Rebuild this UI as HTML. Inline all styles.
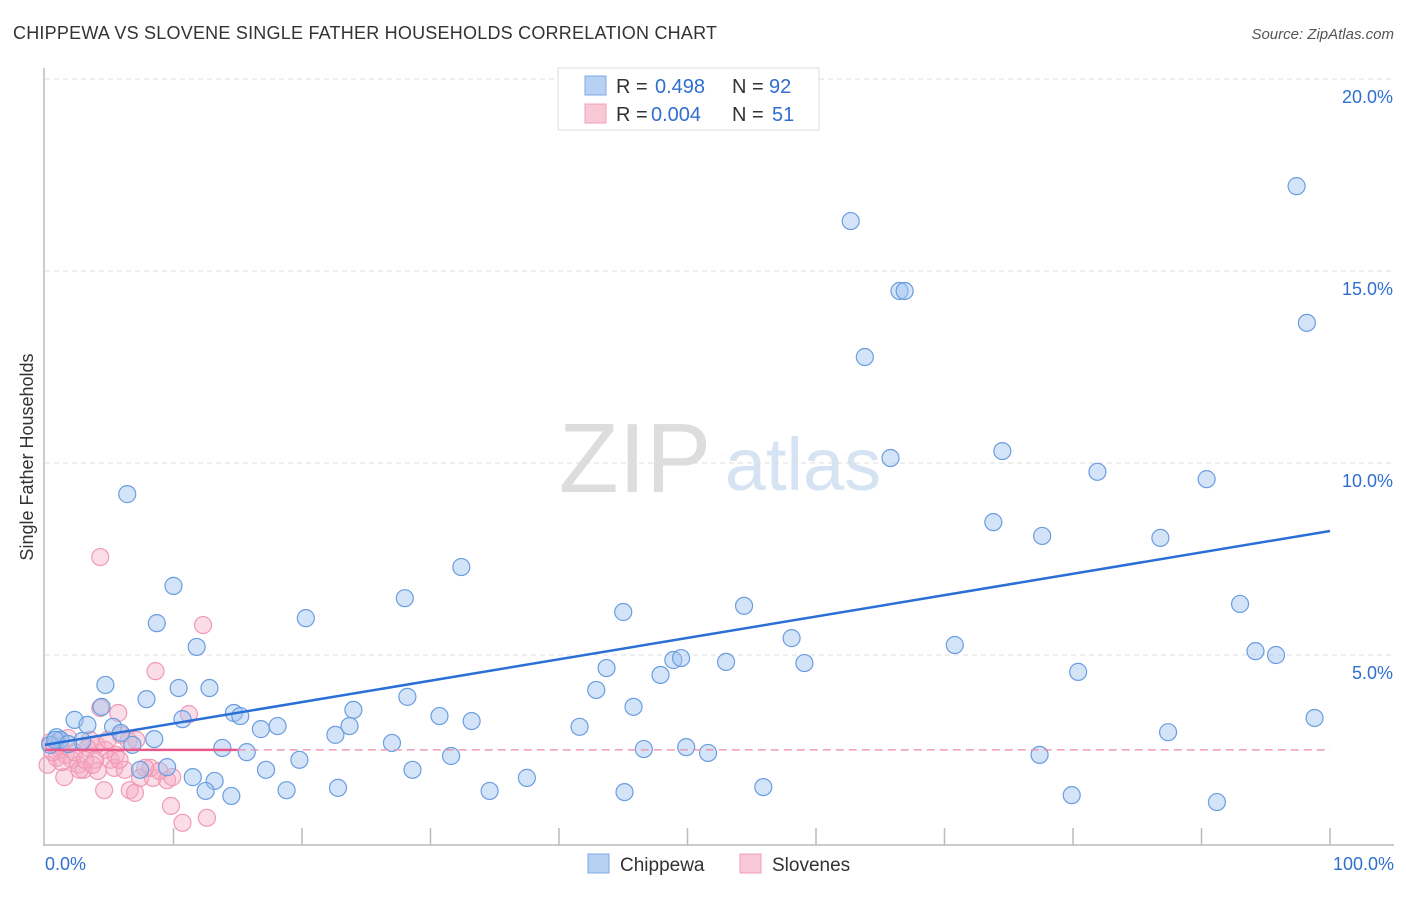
<!DOCTYPE html>
<html><head><meta charset="utf-8"><style>
body{margin:0;background:#fff;font-family:"Liberation Sans",sans-serif;}
svg text{font-family:"Liberation Sans",sans-serif;}
</style></head><body>
<svg id="chart" width="1406" height="892" xmlns="http://www.w3.org/2000/svg">
<text x="13" y="39" font-size="18" fill="#333" textLength="704">CHIPPEWA VS SLOVENE SINGLE FATHER HOUSEHOLDS CORRELATION CHART</text>
<text x="1394" y="39" font-size="15" fill="#555" font-style="italic" text-anchor="end">Source: ZipAtlas.com</text>
<text x="33" y="457" font-size="18" fill="#333" text-anchor="middle" transform="rotate(-90 33 457)">Single Father Households</text>
<g>
<text x="635" y="492" font-size="98" fill="#ddd" font-family="Liberation Serif,serif" text-anchor="middle">ZIP</text>
<text x="803" y="490" font-size="74" fill="#d5e3f3" text-anchor="middle">atlas</text>
</g>
<g id="grid"></g>
<g id="axes"></g>
<g id="marks"></g>
<g>
<rect x="558" y="68" width="261" height="62" fill="#fff" stroke="#ddd"/>
<rect x="585" y="76" width="21" height="19" fill="#b7d1f3" stroke="#7fa9e6"/>
<rect x="585" y="104" width="21" height="19" fill="#f9c8d6" stroke="#f0a0b8"/>
<text x="616" y="93" font-size="20" fill="#333">R = </text><text x="655" y="93" font-size="20" fill="#2f6fd0">0.498</text>
<text x="732" y="93" font-size="20" fill="#333">N = </text><text x="769" y="93" font-size="20" fill="#2f6fd0">92</text>
<text x="616" y="121" font-size="20" fill="#333">R = </text><text x="651" y="121" font-size="20" fill="#2f6fd0">0.004</text>
<text x="732" y="121" font-size="20" fill="#333">N = </text><text x="772" y="121" font-size="20" fill="#2f6fd0">51</text>
</g>
<g>
<rect x="588" y="854" width="21" height="19" fill="#b7d1f3" stroke="#7fa9e6"/>
<text x="620" y="871" font-size="19" fill="#333">Chippewa</text>
<rect x="740" y="854" width="21" height="19" fill="#f9c8d6" stroke="#f0a0b8"/>
<text x="772" y="871" font-size="19" fill="#333">Slovenes</text>
</g>
<text x="45" y="870" font-size="18" fill="#2f6fd0">0.0%</text>
<text x="1394" y="870" font-size="18" fill="#2f6fd0" text-anchor="end">100.0%</text>
</svg>
<script>
const blueX=[6.4,62.7,97.4,66.5,66.9,63.8,98.2,65.8,74.5,81.9,90.4,73.8,77.6,86.8,32.4,28.0,10.0,20.3,45.0,54.4,93.0,8.7,11.8,70.8,58.1,94.2,95.8,48.9,49.5,53.0,59.1,43.7,47.9,80.4,4.7,10.4,12.8,7.9,42.9,28.2,4.4,45.8,24.0,14.7,15.2,10.7,30.7,33.2,98.8,2.3,3.3,5.3,18.1,16.8,23.7,41.6,5.9,22.6,87.4,0.9,8.5,27.0,1.2,2.9,46.6,49.9,6.8,13.8,15.7,51.6,77.4,31.6,19.8,9.5,7.4,17.2,28.6,11.5,37.5,13.2,12.5,18.8,22.8,55.9,34.6,45.1,14.5,79.9,91.2,0.4,0.8,1.8];
const blueY=[9.19,16.30,17.21,14.48,14.48,12.76,13.65,10.13,10.31,9.77,9.58,8.46,8.10,8.05,7.29,6.48,6.80,5.96,6.12,6.28,6.33,5.83,5.21,5.26,5.44,5.10,5.00,4.87,4.92,4.82,4.79,4.66,4.48,4.56,4.22,4.14,4.14,3.85,4.09,3.91,3.65,3.65,3.57,3.49,3.41,3.33,3.41,3.28,3.36,3.31,3.18,3.13,3.15,3.07,3.15,3.13,2.97,2.92,2.99,2.86,2.81,2.71,2.79,2.76,2.55,2.60,2.66,2.58,2.47,2.45,2.40,2.37,2.27,2.08,2.01,2.01,2.01,1.82,1.80,1.72,1.46,1.48,1.54,1.56,1.46,1.43,1.33,1.35,1.17,2.66,2.79,2.68];
const pinkX=[4.3,12.3,8.6,11.2,4.3,5.7,5.9,0.4,0.7,1.2,1.6,2.1,2.6,3.0,3.5,4.0,4.7,5.1,5.4,6.2,6.6,7.0,7.4,8.4,9.5,9.9,9.8,10.7,12.6,4.6,1.5,2.7,4.1,0.9,0.2,1.3,2.3,3.3,3.9,4.9,5.5,6.5,7.1,8.2,8.9,1.8,3.1,3.7,5.8,7.8,0.6];
const pinkY=[7.55,5.78,4.58,3.46,3.62,3.49,2.92,2.73,2.66,2.53,2.40,2.27,2.14,2.01,2.79,2.66,2.53,2.27,2.06,2.01,1.48,1.41,1.80,1.80,1.74,1.82,1.07,0.63,0.76,1.48,1.82,2.01,1.98,2.32,2.14,2.21,2.47,2.58,2.27,2.79,2.40,2.76,2.79,2.06,1.98,2.84,2.27,2.14,2.27,2.06,2.47];
const yTicks=[5,10,15,20];
const yTickLabels=["5.0%","10.0%","15.0%","20.0%"];
const xTicks=[10,20,30,40,50,60,70,80,90,100];
const blueTrend=[[0,2.66],[100,8.23]];
const pinkTrend=[[0,2.53],[15,2.53],[100,2.53]];
const NS="http://www.w3.org/2000/svg";
const sx=v=>45+v*12.85, sy=v=>847-v*38.4;
function mk(tag,attrs,parent){const e=document.createElementNS(NS,tag);for(const k in attrs)e.setAttribute(k,attrs[k]);parent.appendChild(e);return e;}
const grid=document.getElementById('grid'),axes=document.getElementById('axes'),marks=document.getElementById('marks');
yTicks.forEach((t,i)=>{
 const l=mk('line',{x1:45,x2:1394,y1:sy(t),y2:sy(t),stroke:'#ddd','stroke-dasharray':'5,4'},grid);
 
 
 const tx=mk('text',{x:1393,y:sy(t)+24,'font-size':18,fill:'#2f6fd0','text-anchor':'end'},axes);
 tx.textContent=yTickLabels[i];
 
 
});
const ya=mk('line',{x1:44,x2:44,y1:68,y2:846,stroke:'#bbb','stroke-width':1.5},axes);


const xa=mk('line',{x1:44,x2:1394,y1:845,y2:845,stroke:'#bbb','stroke-width':1.5},axes);


xTicks.forEach(t=>{
 const l=mk('line',{x1:sx(t),x2:sx(t),y1:828,y2:845,stroke:'#bbb','stroke-width':1.5},axes);
 
 
});
pinkX.forEach((x,i)=>{
 const c=mk('circle',{cx:sx(x),cy:sy(pinkY[i]),r:8.5,fill:'rgba(246,170,195,0.4)',stroke:'#f09ab4','stroke-width':1.2},marks);
 
 
});
blueX.forEach((x,i)=>{
 const c=mk('circle',{cx:sx(x),cy:sy(blueY[i]),r:8.5,fill:'rgba(160,196,240,0.45)',stroke:'#6a9de0','stroke-width':1.2},marks);
 
 
});
const bt=mk('line',{x1:sx(blueTrend[0][0]),y1:sy(blueTrend[0][1]),x2:sx(blueTrend[1][0]),y2:sy(blueTrend[1][1]),stroke:'#2a6fd6','stroke-width':2.5},marks);


const pt1=mk('line',{x1:sx(pinkTrend[0][0]),y1:sy(pinkTrend[0][1]),x2:sx(pinkTrend[1][0]),y2:sy(pinkTrend[1][1]),stroke:'#e8588a','stroke-width':2.5},marks);


const pt2=mk('line',{x1:sx(pinkTrend[1][0]),y1:sy(pinkTrend[1][1]),x2:sx(pinkTrend[2][0]),y2:sy(pinkTrend[2][1]),stroke:'#eb8aa8','stroke-width':1.2,'stroke-dasharray':'8,5'},marks);


</script>
</body></html>
